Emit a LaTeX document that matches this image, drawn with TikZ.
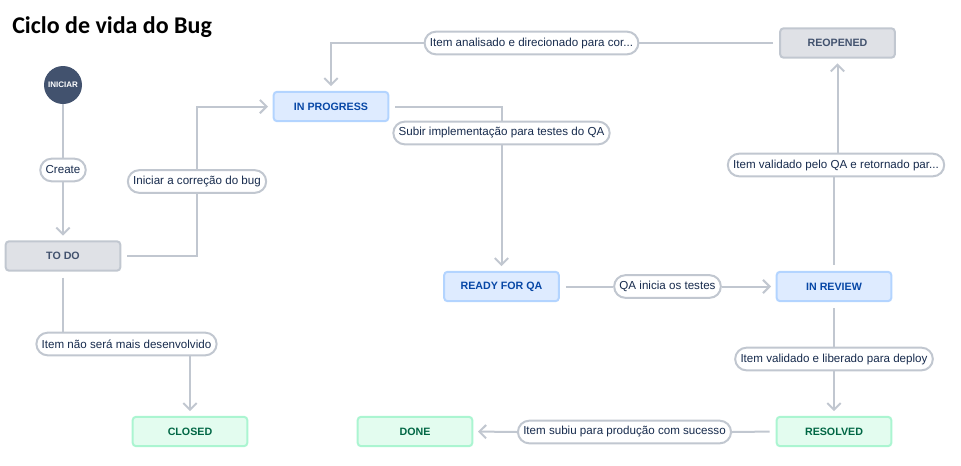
\documentclass[tikz,border=0pt]{standalone}
\usepackage{xcolor}
\usepackage{fontspec}
\setmainfont{Liberation Sans}
\newfontfamily\titlefont{Carlito}
\usepackage{tikz}
\usetikzlibrary{calc}
\usetikzlibrary{arrows.meta}
\usetikzlibrary{shapes}
\usetikzlibrary{positioning}
\definecolor{linegray}{HTML}{C1C7D0}
\definecolor{labeltext}{HTML}{172B4D}
\definecolor{todofill}{HTML}{DFE1E6}
\definecolor{todotext}{HTML}{42526E}
\definecolor{progfill}{HTML}{DEEBFF}
\definecolor{progline}{HTML}{B3D4FF}
\definecolor{progtext}{HTML}{0747A6}
\definecolor{donefill}{HTML}{E3FCEF}
\definecolor{doneline}{HTML}{ABF5D1}
\definecolor{donetext}{HTML}{006644}
\tikzset{>={Straight Barb[length=5pt, width=10pt]}}
\tikzstyle{state} = [rectangle, rounded corners = 2.5pt, minimum width = 86pt, minimum height = 22pt, line width = 1.5pt, font = \fontsize{8}{9}\selectfont\bfseries]
\tikzstyle{todo} = [state, fill = todofill, draw = linegray, text = todotext]
\tikzstyle{inprog} = [state, fill = progfill, draw = progline, text = progtext]
\tikzstyle{finished} = [state, fill = donefill, draw = doneline, text = donetext]
\tikzstyle{trans} = [rectangle, rounded corners = 8.5pt, minimum height = 17pt, inner xsep = 4pt, line width = 1.5pt, draw = linegray, fill = white, text = labeltext, font = \fontsize{8.7}{10}\selectfont]
\tikzstyle{conn} = [draw = linegray, line width = 1.5pt]

\begin{document}
\begin{tikzpicture}[x = 0.75pt, y = -0.75pt]
\useasboundingbox (0, 0) rectangle (961, 465);
\node [anchor = base west, inner sep = 0pt, font = \titlefont\fontsize{18}{20}\selectfont\bfseries] (TITLE) at (12, 33) {Ciclo de vida do Bug};

\node [circle, minimum size = 28.5pt, inner sep = 0pt, fill = todotext, text = white, font = \fontsize{6}{7}\selectfont\bfseries] (START) at (63, 85) {INICIAR};
\node [todo] (TODO) at (63, 256) {TO DO};
\node [inprog] (INPROG) at (331, 106.5) {IN PROGRESS};
\node [inprog] (RFQA) at (501.5, 286.5) {READY FOR QA};
\node [inprog] (INREV) at (834, 286.5) {IN REVIEW};
\node [todo] (REOP) at (837.5, 43) {REOPENED};
\node [finished] (RESOLV) at (834, 431.5) {RESOLVED};
\node [finished] (DONE) at (415, 431.5) {DONE};
\node [finished] (CLOSED) at (190, 431.5) {CLOSED};

\node [trans] (CREATE) at (63, 170) {Create};
\node [trans] (FIX) at (197, 181.5) {Iniciar a correção do bug};
\node [trans] (UPQA) at (501.5, 133) {Subir implementação para testes do QA};
\node [trans] (ANALYS) at (531.5, 43) {Item analisado e direcionado para cor...};
\node [trans] (QAIN) at (667.5, 286.5) {QA inicia os testes};
\node [trans] (VALQA) at (836, 165) {Item validado pelo QA e retornado par...};
\node [trans] (DEPLOY) at (834, 359) {Item validado e liberado para deploy};
\node [trans] (PROD) at (624.5, 432) {Item subiu para produção com sucesso};
\node [trans] (DROP) at (126.5, 344) {Item não será mais desenvolvido};

\draw [conn] (START) to (CREATE);
\draw [conn, ->, shorten >= 3.5pt] (CREATE) to (TODO);
\draw [conn, shorten <= 4.5pt] (TODO.east) -| (FIX.south);
\draw [conn, ->, shorten >= 3.5pt] (FIX.north) |- (INPROG.west);
\draw [conn, shorten <= 4.5pt] (INPROG.east) -| (UPQA.north);
\draw [conn, ->, shorten >= 3.5pt] (UPQA.south) to (RFQA.north);
\draw [conn, shorten <= 4.5pt] (RFQA.east) to (QAIN.west);
\draw [conn, ->, shorten >= 3.5pt] (QAIN.east) to (INREV.west);
\draw [conn, shorten <= 4.5pt] (INREV.north) to (INREV.north |- VALQA.south);
\draw [conn, ->, shorten >= 3.5pt] (REOP.south |- VALQA.north) to (REOP.south);
\draw [conn, shorten <= 4.5pt] (REOP.west) to (ANALYS.east);
\draw [conn, ->, shorten >= 3.5pt] (ANALYS.west) -| (INPROG.north);
\draw [conn, shorten <= 4.5pt] (INREV.south) to (DEPLOY.north);
\draw [conn, ->, shorten >= 3.5pt] (DEPLOY.south) to (RESOLV.north);
\draw [conn, shorten <= 4.5pt] (RESOLV.west) to (PROD.east);
\draw [conn, ->, shorten >= 3.5pt] (PROD.west) to (DONE.east);
\draw [conn, shorten <= 4.5pt] (TODO.south) to (TODO.south |- DROP.north);
\draw [conn, ->, shorten >= 3.5pt] (CLOSED.north |- DROP.south) to (CLOSED.north);
\end{tikzpicture}
\end{document}
